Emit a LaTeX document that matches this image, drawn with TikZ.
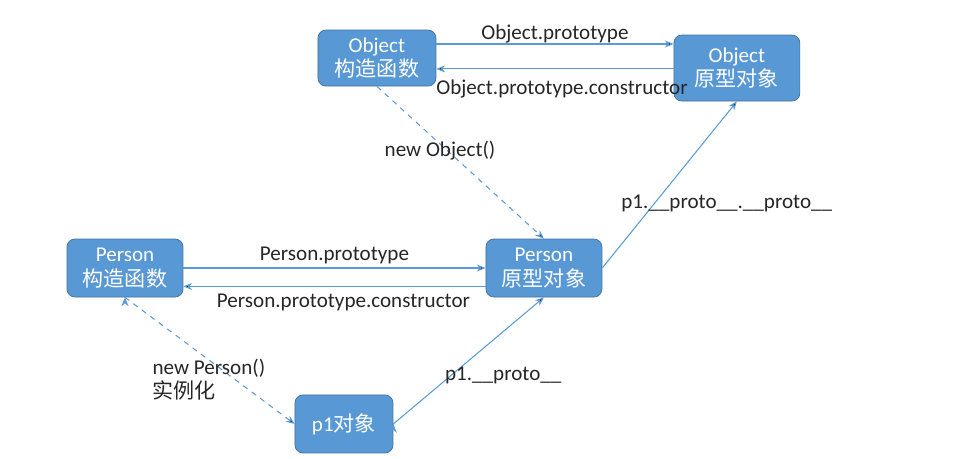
\documentclass[tikz,border=0pt]{standalone}
\usepackage{fontspec}
\setmainfont{Carlito}
\newfontfamily\cjk{Noto Sans CJK SC}
\usetikzlibrary{arrows.meta,positioning}
\definecolor{boxblue}{RGB}{88,152,212}
\definecolor{boxedge}{RGB}{65,113,156}
\definecolor{lineblue}{RGB}{91,155,213}

\begin{document}
\begin{tikzpicture}[x=0.02cm,y=-0.02cm,>={Stealth[length=5pt,width=4pt]},on grid,align=center,
  main node/.style={rectangle,rounded corners=4.5pt,fill=boxblue,draw=boxedge,text=white,inner sep=2pt,font=\fontsize{12}{14}\selectfont},
  link/.style={->,draw=lineblue,line width=0.6pt},
  label node/.style={font=\fontsize{12}{14}\selectfont,text=black!85}]
    \useasboundingbox (0,0) rectangle (958,458);
    \node[main node,minimum width=2.32cm,minimum height=1.16cm] (perctor) at (125,268) {Person\\{\cjk 构造函数}};
    \node[main node,minimum width=2.32cm,minimum height=1.16cm] (perproto) [right=8.38cm of perctor] {Person\\{\cjk 原型对象}};
    \node[main node,minimum width=1.96cm,minimum height=1.16cm] (p1) [below right=3.12cm and 4.38cm of perctor] {p1{\cjk 对象}};
    \node[main node,minimum width=2.36cm,minimum height=1.12cm] (objctor) [above left=4.2cm and 3.34cm of perproto] {Object\\{\cjk 构造函数}};
    \node[main node,minimum width=2.52cm,minimum height=1.32cm] (objproto) [above right=4cm and 3.86cm of perproto] {Object\\{\cjk 原型对象}};

  \path[link,every node/.style={label node}]
  ([yshift=8pt]objctor.east) edge node [above,inner sep=0pt] {Object.prototype} ([yshift=8pt]objctor.east -| objproto.west)
  ([yshift=-6.2pt]objctor.east -| objproto.west) edge node [below,pos=0.47,inner sep=6pt] {Object.prototype.constructor} ([yshift=-6.2pt]objctor.east)
  (perctor.east) edge node [above,inner sep=2pt] {Person.prototype} (perproto.west)
  ([yshift=-10.5pt]perproto.west) edge node [below,pos=0.47,inner sep=4pt] {Person.prototype.constructor} ([yshift=-10.5pt]perctor.west -| perctor.east)
  (perproto.east) edge node [pos=0.39,xshift=41pt] {p1.\_\_proto\_\_.\_\_proto\_\_} (objproto.south)
  (p1.east) edge node [pos=0.38,xshift=30pt] {p1.\_\_proto\_\_} (perproto.south);

  \path[link,dashed,every node/.style={label node}]
  (objctor.south) edge node [pos=0.42,xshift=-4pt] {new Object()} (perproto.north)
  (perctor.south) edge node [pos=0.65,xshift=-15pt,align=left] {new Person()\\{\cjk 实例化}} (p1.west);
\end{tikzpicture}
\end{document}
